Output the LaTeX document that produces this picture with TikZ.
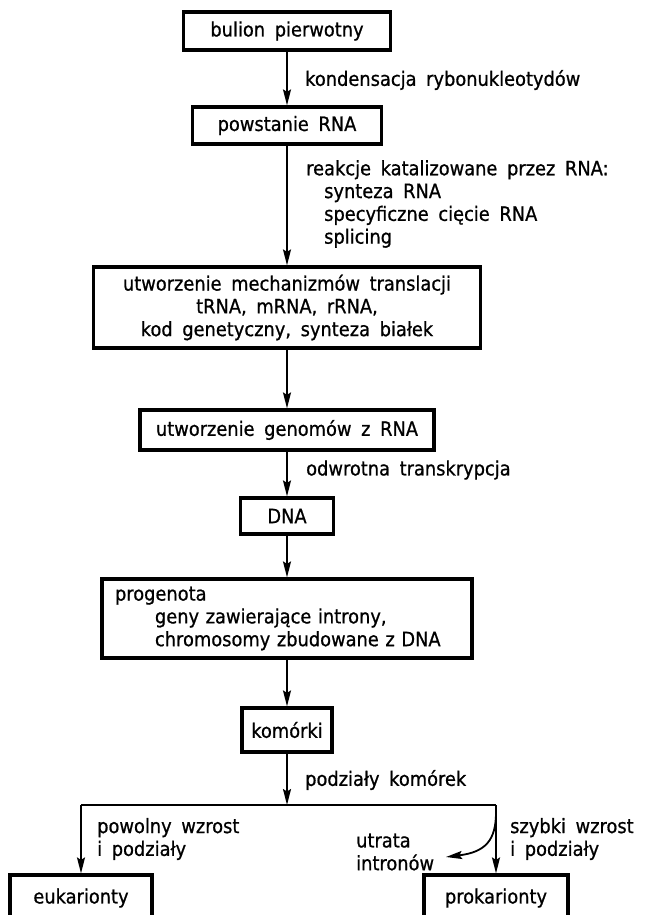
\documentclass[tikz,border=0pt]{standalone}
\usepackage{fontspec}
\setmainfont{DejaVu Sans}[WordSpace=1.7, FakeBold=0.8, FakeStretch=0.9]
\usetikzlibrary{arrows.meta}

\begin{document}
\begin{tikzpicture}[x=1pt,y=-1pt,
  every node/.style={font=\fontsize{19.8}{22.8}\selectfont, inner sep=0pt},
  box/.style={draw, line width=3.2pt, align=center},
  arr/.style={line width=1.8pt, -{Stealth[length=16pt,width=8pt,inset=2.5pt]}},
  link/.style={line width=1.8pt},
  lbl/.style={anchor=west, align=left}]

\useasboundingbox (0,0) rectangle (654,915);
\clip (0,0) rectangle (654,915);

% main chain of stages
\node[box, minimum width=207pt, minimum height=38pt] (b1) at (287,31) {bulion pierwotny};
\node[box, minimum width=189pt, minimum height=37pt] (b2) at (287,125.5) {powstanie RNA};
\node[box, minimum width=387pt, minimum height=81pt] (b3) at (287,307.5)
  {utworzenie mechanizmów translacji\\tRNA, mRNA, rRNA,\\kod genetyczny, synteza białek};
\node[box, minimum width=294pt, minimum height=40pt] (b4) at (287,430) {utworzenie genomów z RNA};
\node[box, minimum width=93pt, minimum height=36pt] (dna) at (287,516) {DNA};
\node[box, minimum width=370pt, minimum height=79pt, text width=344pt, align=left] (prog) at (287,618.5)
  {progenota\\\hspace*{40pt}geny zawierające introny,\\\hspace*{40pt}chromosomy zbudowane z DNA};
\node[box, minimum width=90pt, minimum height=44pt] (kom) at (287,730) {komórki};
\node[box, minimum width=142pt, minimum height=46pt] (euk) at (81,898) {eukarionty};
\node[box, minimum width=144pt, minimum height=46pt] (prok) at (496,898) {prokarionty};

% arrow labels
\node[lbl] (l1) at (305,80) {kondensacja rybonukleotydów};
\node[lbl] (l2) at (306,204) {reakcje katalizowane przez RNA:\\\hspace*{18pt}synteza RNA\\\hspace*{18pt}specyficzne cięcie RNA\\\hspace*{18pt}splicing};
\node[lbl] (l3) at (306,470) {odwrotna transkrypcja};
\node[lbl] (l4) at (305,780) {podziały komórek};
\node[lbl] (l5) at (97,839) {powolny wzrost\\i podziały};
\node[lbl] (l6) at (510,839) {szybki wzrost\\i podziały};
\node[lbl] (l7) at (356,852) {utrata\\intronów};

% connectors
\draw[arr] (b1) -- (b2);
\draw[arr] (b2) -- (b3);
\draw[arr] (b3) -- (b4);
\draw[arr] (b4) -- (dna);
\draw[arr] (dna) -- (prog);
\draw[arr] (prog) -- (kom);

\coordinate (split) at (287,805);
\coordinate (sl) at (euk.north |- split);
\coordinate (sr) at (prok.north |- split);
\draw[arr] (kom) -- (split);
\draw[link] (sl) -- (sr);
\draw[arr] (sl) -- (euk);
\draw[arr] (sr) -- (prok);

% loss of introns branch
\coordinate (bend) at (496,812);
\coordinate (loss) at (446,857);
\draw[arr] (bend) .. controls (496,840) and (486,852) .. (loss);
\end{tikzpicture}
\end{document}
